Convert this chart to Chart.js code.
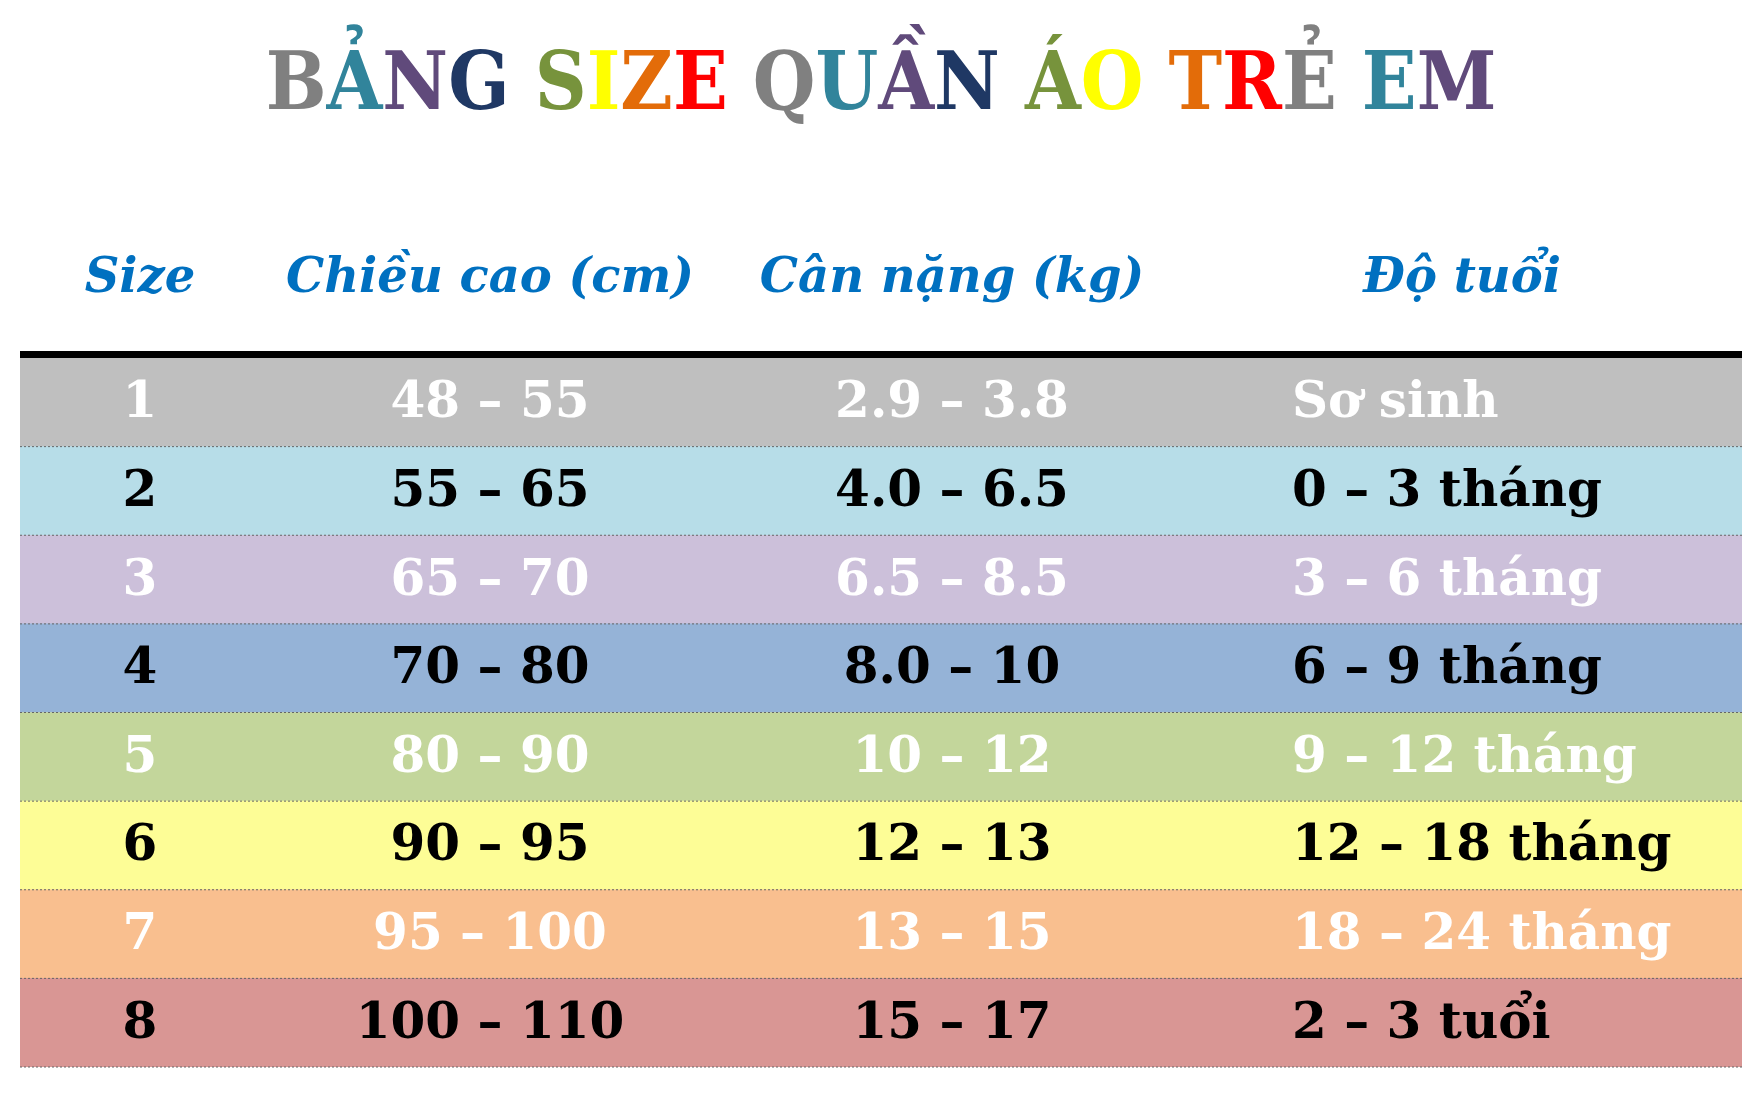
<!DOCTYPE html>
<html>
<head>
<meta charset="utf-8">
<script src="https://cdn.jsdelivr.net/npm/chart.js@4"></script>
<style>
  body { margin: 0; background: #fff; width: 1762px; height: 1096px; position: relative; overflow: hidden; }
  #title { position: absolute; top: 34px; left: 0; width: 1762px; text-align: center;
           font: bold 80px "DejaVu Serif Condensed", "DejaVu Serif", serif; }
  .hd { position: absolute; top: 247px; font: italic bold 48px "DejaVu Serif", serif; color: #0070C0;
        transform: translateX(-50%); white-space: nowrap; }
  canvas { position: absolute; left: 0; top: 0; }
</style>
</head>
<body>
<canvas id="tbl" width="1762" height="1096"></canvas>
<div id="title"></div>
<div class="hd" style="left:140px">Size</div>
<div class="hd" style="left:490px">Chiều cao (cm)</div>
<div class="hd" style="left:952px">Cân nặng (kg)</div>
<div class="hd" style="left:1462px">Độ tuổi</div>
<script>
const titleText = 'BẢNG SIZE QUẦN ÁO TRẺ EM';
const titleColors = ['#808080', '#31849B', '#604A7B', '#1F3864', '#77933C', '#FFFF00', '#E36C09', '#FF0000'];

const sizes = ['1', '2', '3', '4', '5', '6', '7', '8'];
const heights = ['48 – 55', '55 – 65', '65 – 70', '70 – 80', '80 – 90', '90 – 95', '95 – 100', '100 – 110'];
const weights = ['2.9 – 3.8', '4.0 – 6.5', '6.5 – 8.5', '8.0 – 10', '10 – 12', '12 – 13', '13 – 15', '15 – 17'];
const ages = ['Sơ sinh', '0 – 3 tháng', '3 – 6 tháng', '6 – 9 tháng', '9 – 12 tháng', '12 – 18 tháng', '18 – 24 tháng', '2 – 3 tuổi'];
const rowColors = ['#BFBFBF', '#B7DDE8', '#CCC0DA', '#95B3D7', '#C3D69B', '#FDFD96', '#F9BF8F', '#D99694'];
const textColors = ['#fff', '#000', '#fff', '#000', '#fff', '#000', '#fff', '#000'];

// tiêu đề nhiều màu
let ci = 0;
document.getElementById('title').innerHTML = titleText.split('').map(ch => {
    if (ch === ' ') return ' ';
    const c = titleColors[ci++ % titleColors.length];
    return '<span style="color:' + c + '">' + ch + '</span>';
}).join('');

const cellText = {
    id: 'cellText',
    afterDatasetsDraw(chart) {
        const ctx = chart.ctx;
        const area = chart.chartArea;
        const meta = chart.getDatasetMeta(0);
        ctx.save();
        meta.data.forEach((bar, i) => {
            const half = bar.height / 2;
            // Trennlinie
            ctx.strokeStyle = '#666';
            ctx.lineWidth = 1;
            ctx.setLineDash([2, 2]);
            ctx.beginPath();
            ctx.moveTo(area.left, bar.y + half);
            ctx.lineTo(area.right, bar.y + half);
            ctx.stroke();
            ctx.setLineDash([]);

            ctx.fillStyle = textColors[i];
            ctx.font = 'bold 50px "DejaVu Serif", serif';
            ctx.textBaseline = 'middle';
            ctx.textAlign = 'center';
            ctx.fillText(sizes[i], 140, bar.y + 2);
            ctx.fillText(heights[i], 490, bar.y + 2);
            ctx.fillText(weights[i], 952, bar.y + 2);
            ctx.textAlign = 'left';
            ctx.fillText(ages[i], 1292, bar.y + 2);
        });
        // dicke Linie oben
        ctx.fillStyle = '#000';
        ctx.fillRect(area.left, area.top - 7, area.right - area.left, 7);
        ctx.restore();
    }
};

new Chart(document.getElementById('tbl'), {
    type: 'bar',
    data: {
        labels: sizes,
        datasets: [{
            data: sizes.map(() => 1),
            backgroundColor: rowColors,
            barPercentage: 1,
            categoryPercentage: 1,
        }],
    },
    options: {
        indexAxis: 'y',
        responsive: false,
        animation: false,
        layout: { padding: { left: 20, right: 20, top: 358, bottom: 29 } },
        scales: {
            x: { display: false, min: 0, max: 1 },
            y: { display: false },
        },
        plugins: { legend: { display: false }, tooltip: { enabled: false } },
    },
    plugins: [cellText],
});
</script>
</body>
</html>
